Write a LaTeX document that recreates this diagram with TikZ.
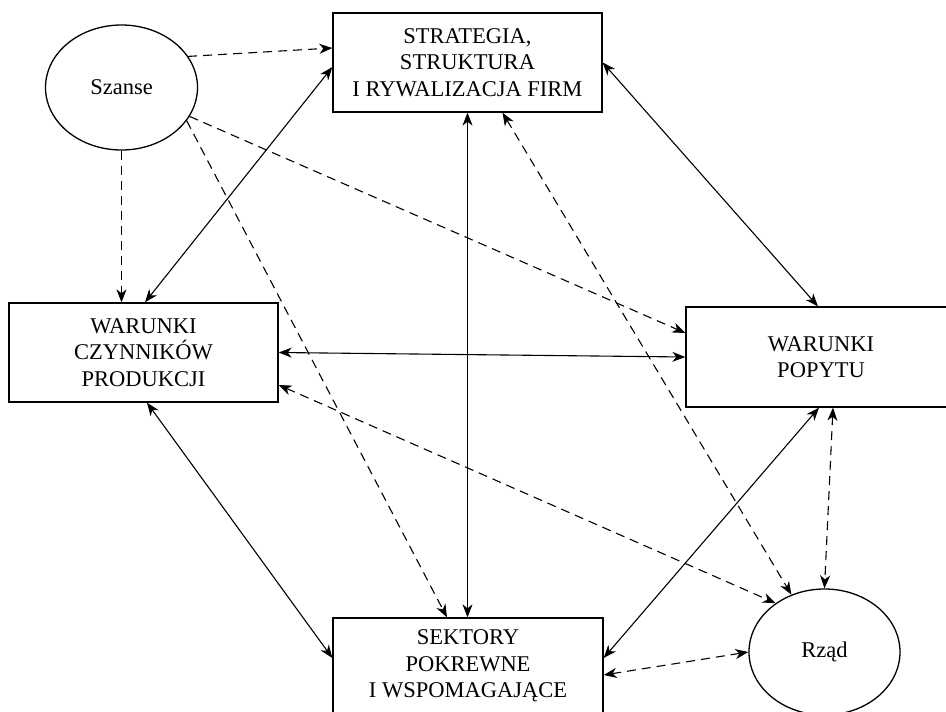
\documentclass[tikz,border=0pt]{standalone}
\usepackage{fontspec}
\setmainfont{Liberation Serif}
\usetikzlibrary{arrows.meta,shapes.geometric}

\tikzset{
  every node/.style={font=\fontsize{22.5}{26.5}\selectfont, align=center, inner sep=0pt},
  factor/.style={draw, line width=1.3pt, rectangle},
  oval/.style={draw, line width=1.3pt, ellipse},
  link/.style={line width=1.1pt},
  dlink/.style={line width=1.1pt, dash pattern=on 9pt off 6pt},
  >={Stealth[length=13pt,width=10pt,inset=4pt]},
}

\begin{document}
\begin{tikzpicture}[x=1pt,y=-1pt]
  \useasboundingbox (0,0) rectangle (946,712);
  \fill[white] (0,0) rectangle (946,712);
  \clip (0,0) rectangle (946,712);

  % the four determinants and two outside influences
  \node[factor, minimum width=269pt, minimum height=99pt] (strat) at (467.5,62.5)
    {STRATEGIA,\\STRUKTURA\\I RYWALIZACJA FIRM};
  \node[factor, minimum width=269pt, minimum height=99pt] (czyn) at (143.5,352.5)
    {WARUNKI\\CZYNNIKÓW\\PRODUKCJI};
  \node[factor, minimum width=270pt, minimum height=100pt] (popyt) at (821,357)
    {WARUNKI\\POPYTU};
  \node[factor, minimum width=270pt, minimum height=96pt] (sekt) at (468,666)
    {SEKTORY\\POKREWNE\\I WSPOMAGAJĄCE};
  \node[oval, minimum width=152pt, minimum height=125pt] (szanse) at (121.5,87.5) {Szanse};
  \node[oval, minimum width=151pt, minimum height=126pt] (rzad) at (824.5,652) {Rząd};

  % chance influences
  \draw[dlink,->] (szanse.25.2) -- ([yshift=14.5pt]strat.west);
  \draw[dlink,->] (szanse.south) -- (szanse.south |- czyn.north);
  \draw[dlink,->] (szanse.-23.1) -- ([yshift=24pt]popyt.west);
  \draw[dlink,->] (szanse.-27.6) -- ([xshift=-21pt]sekt.north);

  % links between the determinants
  \draw[link,<->] ([yshift=-4.5pt]strat.west) -- ([xshift=1.5pt]czyn.north);
  \draw[link,<->] (strat.south) -- (strat.south |- sekt.north);
  \draw[link,<->] (strat.east) -- ([xshift=-3pt]popyt.north);
  \draw[link,<->] (czyn.east) -- (popyt.west);
  \draw[link,<->] ([xshift=3.5pt]czyn.south) -- ([yshift=8pt]sekt.west);
  \draw[link,<->] ([xshift=-2pt]popyt.south) -- ([yshift=8pt]sekt.east);

  % government links
  \draw[dlink,<->] ([xshift=35pt]strat.south) -- (rzad.120.3);
  \draw[dlink,<->] ([yshift=-32.5pt]czyn.east) -- (rzad.135.8);
  \draw[dlink,<->] ([xshift=12pt]popyt.south) -- (rzad.north);
  \draw[dlink,<->] ([yshift=-9pt]sekt.east) -- (rzad.west);
\end{tikzpicture}
\end{document}
